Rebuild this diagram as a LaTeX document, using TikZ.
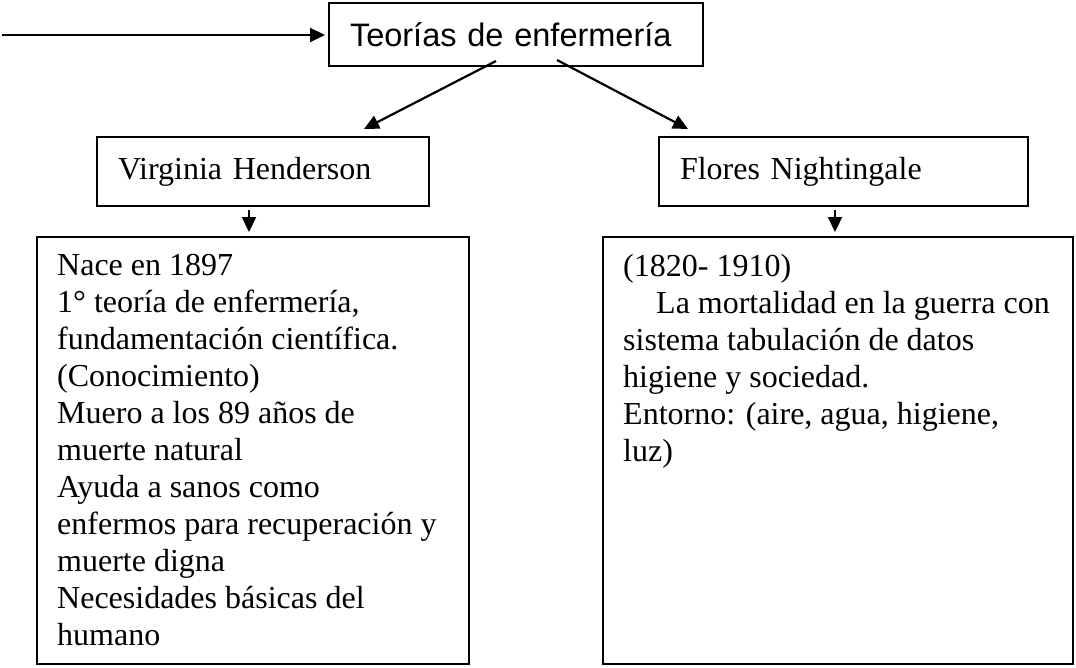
\documentclass[tikz,border=0pt]{standalone}
\usepackage{fontspec}
\setmainfont{Liberation Serif}
\newfontfamily\titlefont{Liberation Sans}
\usetikzlibrary{positioning}
\usetikzlibrary{calc}
\usetikzlibrary{arrows.meta}

\begin{document}
\begin{tikzpicture}[x=1pt, y=-1pt,
    box/.style={draw, line width=2pt, inner sep=0pt},
    arr/.style={-{Triangle[length=15pt,width=14pt]}, line width=2.2pt},
    info/.style={align=left, inner sep=0pt, anchor=north west, font=\fontsize{32}{37}\selectfont}]
    \useasboundingbox (0,0) rectangle (1076,667);
    \node[box, minimum width=374pt, minimum height=63pt, text width=332pt, font=\titlefont\fontsize{32.5}{36}\selectfont] (title) at (516,34.5) {Teorías de enfermería};
    \node[box, minimum width=332pt, minimum height=69pt, text width=290pt, font=\fontsize{32}{36}\selectfont] (hend) at (263,171.5) {Virginia Henderson};
    \node[box, minimum width=369pt, minimum height=69pt, text width=327pt, font=\fontsize{32}{36}\selectfont] (flor) at (843.5,171.5) {Flores Nightingale};
    \node[box, minimum width=432pt, minimum height=427pt] (hinfo) at (253,450.5) {};
    \node[box, minimum width=470pt, minimum height=427pt] (finfo) at (838,450.5) {};
    \node[info] (htext) at ([xshift=21pt, yshift=-18pt]hinfo.north west) {Nace en 1897\\
        1° teoría de enfermería,\\
        fundamentación científica.\\
        (Conocimiento)\\
        Muero a los 89 años de\\
        muerte natural\\
        Ayuda a sanos como\\
        enfermos para recuperación y\\
        muerte digna\\
        Necesidades básicas del\\
        humano};
    \node[info] (ftext) at ([xshift=21pt, yshift=-18pt]finfo.north west) {(1820- 1910)\\
        \hspace*{33pt}La mortalidad en la guerra con\\
        sistema tabulación de datos\\
        higiene y sociedad.\\
        Entorno: (aire, agua, higiene,\\
        luz)};
    \coordinate (in) at (2,35);
    \draw[arr, shorten >=3pt] (in) -- (in -| title.west);
    \draw[arr] ($(title.south)+(-20,-6)$) -- ($(hend.north east)+(-66,-7)$);
    \draw[arr] ($(title.south)+(41,-7)$) -- ($(flor.north west)+(30,-7)$);
    \draw[arr, shorten <=3pt, shorten >=4pt] ([xshift=-14pt]hend.south) -- ([xshift=-14pt]hend.south |- hinfo.north);
    \draw[arr, shorten <=3pt, shorten >=4pt] ([xshift=-8.5pt]flor.south) -- ([xshift=-8.5pt]flor.south |- finfo.north);
\end{tikzpicture}
\end{document}
